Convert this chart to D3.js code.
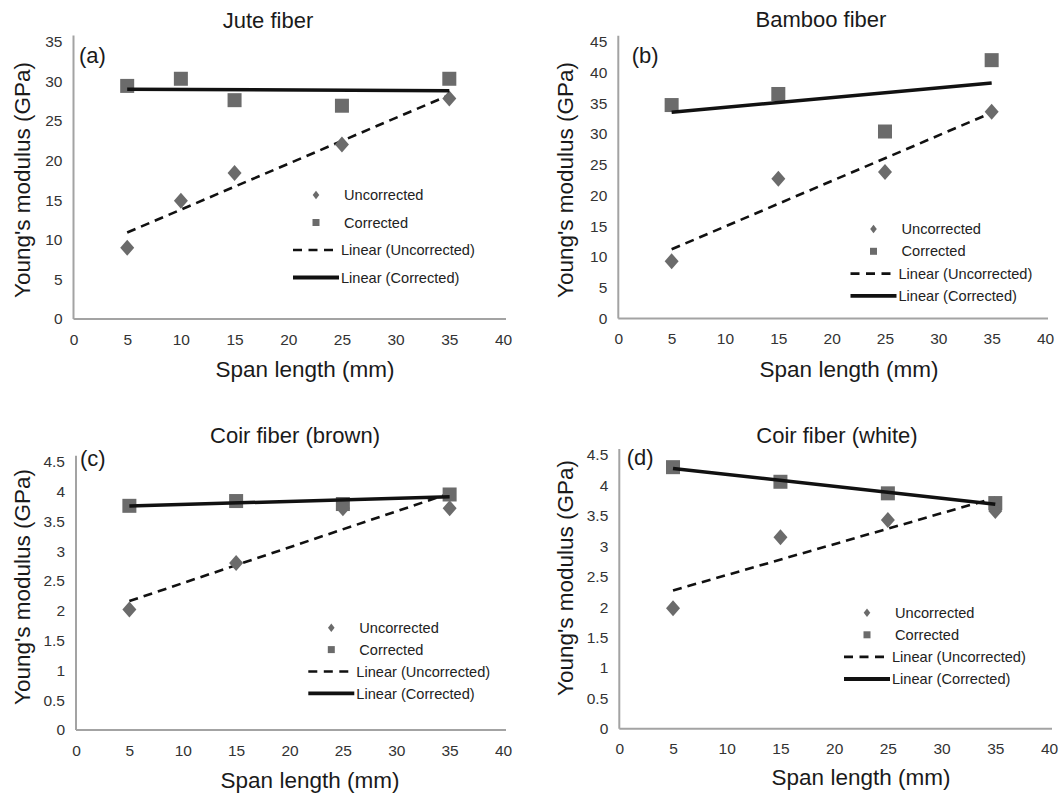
<!DOCTYPE html>
<html lang="en">
  <head>
    <meta charset="UTF-8"/>
    <title>Young's modulus vs span length</title>
    <script src="https://d3js.org/d3.v7.min.js"></script>
    <style>
        body {
          margin: 0;
          background: #fff;
          font-family: "Liberation Sans", Arial, sans-serif;
        }
        .axis path {
          fill: none;
          stroke: #a3a3a3;
          stroke-width: 2;
        }
        .axis text {
          fill: #333;
          font-size: 15.5px;
          font-family: "Liberation Sans", Arial, sans-serif;
        }
        .title {
          fill: #1a1a1a;
          font-size: 22px;
        }
        .tag {
          fill: #1a1a1a;
          font-size: 22px;
        }
        .axis-title {
          fill: #1a1a1a;
          font-size: 22.5px;
        }
        .legend text {
          fill: #222;
          font-size: 14.6px;
        }
        .marker {
          fill: #6b6b6b;
        }
    </style>
  </head>
  <body>
    <script>
        // values
        const spansJute = [5, 10, 15, 25, 35];
        const juteUncorrected = [9.0, 14.9, 18.4, 22.0, 27.8];
        const juteCorrected = [29.4, 30.3, 27.6, 26.9, 30.3];

        const spansBamboo = [5, 15, 25, 35];
        const bambooUncorrected = [9.3, 22.7, 23.8, 33.6];
        const bambooCorrected = [34.7, 36.5, 30.4, 42.0];

        const spansCoir = [5, 15, 25, 35];
        const coirBrownUncorrected = [2.02, 2.80, 3.72, 3.72];
        const coirBrownCorrected = [3.76, 3.84, 3.79, 3.95];
        const coirWhiteUncorrected = [1.98, 3.15, 3.43, 3.58];
        const coirWhiteCorrected = [4.30, 4.06, 3.87, 3.71];

        const xTicks = [0, 5, 10, 15, 20, 25, 30, 35, 40];
        const yTicksJute = d3.range(0, 36, 5);
        const yTicksBamboo = d3.range(0, 46, 5);
        const yTicksCoir = [0, 0.5, 1, 1.5, 2, 2.5, 3, 3.5, 4, 4.5];

        const legendLabels = ["Uncorrected", "Corrected", "Linear (Uncorrected)", "Linear (Corrected)"];
        const titles = ["Jute fiber", "Bamboo fiber", "Coir fiber (brown)", "Coir fiber (white)"];
        const tags = ["(a)", "(b)", "(c)", "(d)"];

        // layout of each panel on the page
        const panels = [
          {xs: spansJute, unc: juteUncorrected, cor: juteCorrected, yTicks: yTicksJute,
           left: 73.5, right: 503, bottom: 319, top: 41.5,
           titleX: 268, titleY: 20, xTitleX: 305, xTitleY: 369, yTitleX: 22, yTitleY: 180,
           tagX: 79, tagY: 55, legX: 293, legY: 195, legGap: 27.5},
          {xs: spansBamboo, unc: bambooUncorrected, cor: bambooCorrected, yTicks: yTicksBamboo,
           left: 618.3, right: 1045, bottom: 318.5, top: 41.7,
           titleX: 821, titleY: 19, xTitleX: 849, xTitleY: 369, yTitleX: 565, yTitleY: 180,
           tagX: 631.7, tagY: 55, legX: 850.5, legY: 229, legGap: 22.3},
          {xs: spansCoir, unc: coirBrownUncorrected, cor: coirBrownCorrected, yTicks: yTicksCoir,
           left: 76, right: 503, bottom: 730, top: 461.7,
           titleX: 295, titleY: 435, xTitleX: 310, xTitleY: 780, yTitleX: 21.7, yTitleY: 587,
           tagX: 80, tagY: 458, legX: 308.3, legY: 627.7, legGap: 21.9},
          {xs: spansCoir, unc: coirWhiteUncorrected, cor: coirWhiteCorrected, yTicks: yTicksCoir,
           left: 619.3, right: 1049, bottom: 728.8, top: 455,
           titleX: 837, titleY: 435, xTitleX: 861, xTitleY: 777, yTitleX: 565, yTitleY: 578,
           tagX: 626.7, tagY: 457, legX: 844, legY: 612.7, legGap: 22.1}
        ];

        const svg = d3.select("body").append("svg")
            .attr("width", 1061)
            .attr("height", 793);

        // Excel style least squares trend line
        function fit(xs, ys) {
          const mx = d3.mean(xs), my = d3.mean(ys);
          const sxy = d3.sum(xs, (x, i) => (x - mx) * (ys[i] - my));
          const sxx = d3.sum(xs, x => (x - mx) * (x - mx));
          const slope = sxy / sxx;
          return x => my + slope * (x - mx);
        }

        function diamond(w, h) {
          return `M0,${-h}L${w},0L0,${h}L${-w},0Z`;
        }

        panels.forEach((p, i) => {
          const x = d3.scaleLinear().domain([0, 40]).range([p.left, p.right]);
          const yMax = p.yTicks[p.yTicks.length - 1];
          const y = d3.scaleLinear().domain([0, yMax]).range([p.bottom, p.top]);
          const g = svg.append("g");

          g.append("g")
              .attr("class", "axis")
              .attr("transform", `translate(0, ${p.bottom})`)
              .call(d3.axisBottom(x).tickValues(xTicks).tickSize(0).tickPadding(14.5))
              .call(a => a.select(".domain").attr("d", `M${p.left},0H${p.right + 3}`));

          g.append("g")
              .attr("class", "axis")
              .attr("transform", `translate(${p.left}, 0)`)
              .call(d3.axisLeft(y).tickValues(p.yTicks).tickSize(0).tickPadding(11).tickFormat(d => d))
              .call(a => a.select(".domain").attr("d", `M0,${p.top - 6}V${p.bottom}`));

          // trend lines
          const xExt = d3.extent(p.xs);
          const line = d3.line().x(d => x(d[0])).y(d => y(d[1]));
          const fu = fit(p.xs, p.unc), fc = fit(p.xs, p.cor);
          g.append("path")
              .attr("d", line(xExt.map(v => [v, fu(v)])))
              .attr("fill", "none")
              .attr("stroke", "#111")
              .attr("stroke-width", 2.6)
              .attr("stroke-dasharray", "9,6");

          // markers
          g.selectAll(".sq")
            .data(p.cor)
            .join("rect")
              .attr("class", "marker")
              .attr("x", (d, j) => x(p.xs[j]) - 7)
              .attr("y", d => y(d) - 7)
              .attr("width", 14)
              .attr("height", 14);

          g.selectAll(".dm")
            .data(p.unc)
            .join("path")
              .attr("class", "marker")
              .attr("transform", (d, j) => `translate(${x(p.xs[j])}, ${y(d)})`)
              .attr("d", diamond(7, 8));

          g.append("path")
              .attr("d", line(xExt.map(v => [v, fc(v)])))
              .attr("fill", "none")
              .attr("stroke", "#111")
              .attr("stroke-width", 3.5);

          // texts
          g.append("text")
              .attr("class", "title")
              .attr("x", p.titleX)
              .attr("y", p.titleY)
              .attr("dy", "0.35em")
              .attr("text-anchor", "middle")
              .text(titles[i]);

          g.append("text")
              .attr("class", "tag")
              .attr("x", p.tagX)
              .attr("y", p.tagY)
              .attr("dy", "0.35em")
              .text(tags[i]);

          g.append("text")
              .attr("class", "axis-title")
              .attr("x", p.xTitleX)
              .attr("y", p.xTitleY)
              .attr("dy", "0.35em")
              .attr("text-anchor", "middle")
              .text("Span length (mm)");

          g.append("text")
              .attr("class", "axis-title")
              .attr("transform", `translate(${p.yTitleX}, ${p.yTitleY}) rotate(-90)`)
              .attr("dy", "0.35em")
              .attr("text-anchor", "middle")
              .text("Young's modulus (GPa)");

          // legend
          const leg = g.append("g")
              .attr("class", "legend")
              .attr("transform", `translate(${p.legX}, ${p.legY})`);
          const rows = leg.selectAll("g")
            .data(legendLabels)
            .join("g")
              .attr("transform", (d, j) => `translate(0, ${j * p.legGap})`);
          rows.append("text")
              .attr("x", (d, j) => j < 2 ? 51 : 48)
              .attr("dy", "0.35em")
              .text(d => d);
          rows.filter((d, j) => j === 0).append("path")
              .attr("class", "marker")
              .attr("transform", "translate(23, 0)")
              .attr("d", diamond(3.3, 4.3));
          rows.filter((d, j) => j === 1).append("rect")
              .attr("class", "marker")
              .attr("x", 19.5).attr("y", -3.5)
              .attr("width", 7).attr("height", 7);
          rows.filter((d, j) => j === 2).append("line")
              .attr("x1", 0).attr("x2", 46)
              .attr("stroke", "#111")
              .attr("stroke-width", 2.6)
              .attr("stroke-dasharray", "9,6.5");
          rows.filter((d, j) => j === 3).append("line")
              .attr("x1", 0).attr("x2", 46)
              .attr("stroke", "#111")
              .attr("stroke-width", 3.8);
        });
    </script>
  </body>
</html>
